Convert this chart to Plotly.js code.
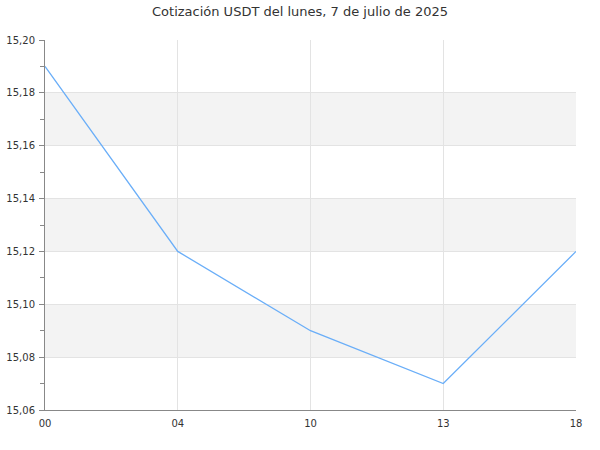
<!DOCTYPE html>
<html>
<head>
<meta charset="utf-8">
<script src="https://cdn.plot.ly/plotly-3.0.1.min.js"></script>
<style>html,body{margin:0;padding:0;background:#fff;}#chart{width:600px;height:450px;}</style>
</head>
<body>
<div id="chart"></div>
<script>
const hours = ["00", "04", "10", "13", "18"];
const prices = [15.19, 15.12, 15.09, 15.07, 15.12];
const bandStarts = [15.08, 15.12, 15.16];
const bandWidth = 0.02;
const chartTitle = "Cotización USDT del lunes, 7 de julio de 2025";

const shapes = bandStarts.map(b => ({
  type: "rect", xref: "paper", yref: "y", x0: 0, x1: 1, y0: b, y1: b + bandWidth,
  fillcolor: "#f3f3f3", line: {width: 0}, layer: "below"
}));

Plotly.newPlot("chart", [{
  x: hours, y: prices, type: "scatter", mode: "lines",
  line: {color: "#6aaef8", width: 1.3}, hoverinfo: "skip"
}], {
  width: 600, height: 450,
  margin: {l: 45, r: 24, t: 40, b: 40},
  separators: ",.",
  font: {family: "DejaVu Sans", size: 10, color: "#333"},
  title: {text: chartTitle, font: {size: 13, color: "#333"}, x: 0.5, xanchor: "center", y: 0.985, yanchor: "top"},
  paper_bgcolor: "#fff", plot_bgcolor: "rgba(0,0,0,0)",
  shapes: shapes,
  showlegend: false,
  xaxis: {
    type: "category", range: [0, 4], showgrid: true, gridcolor: "#e3e3e3", gridwidth: 1,
    showline: true, linecolor: "#888", linewidth: 1, ticks: "", zeroline: false,
    ticklabelstandoff: 4,
    tickfont: {size: 10, color: "#333"}, fixedrange: true
  },
  yaxis: {
    range: [15.06, 15.20], dtick: 0.02, tick0: 15.06, tickformat: ".2f",
    showgrid: true, gridcolor: "#e3e3e3", gridwidth: 1,
    showline: true, linecolor: "#888", linewidth: 1,
    ticks: "outside", ticklen: 5, tickcolor: "#888", zeroline: false,
    ticklabelstandoff: 2,
    minor: {dtick: 0.01, tick0: 15.06, ticks: "outside", ticklen: 4, tickcolor: "#888", showgrid: false},
    tickfont: {size: 10, color: "#333"}, fixedrange: true
  }
}, {displayModeBar: false, staticPlot: true});
</script>
</body>
</html>
